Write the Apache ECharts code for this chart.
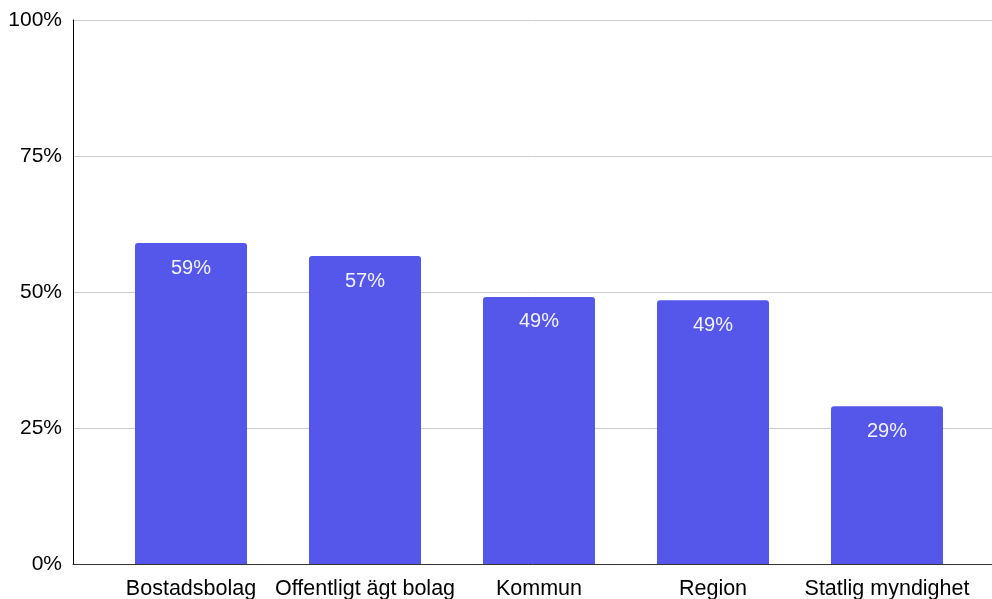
<!DOCTYPE html>
<html>
<head>
<meta charset="utf-8">
<script src="https://cdn.jsdelivr.net/npm/echarts@6/dist/echarts.min.js"></script>
<style>
  html, body { margin: 0; padding: 0; background: #fff; }
  #chart { width: 992px; height: 599px; }
</style>
</head>
<body>
<div id="chart"></div>
<script>
const categories = ['Bostadsbolag', 'Offentligt ägt bolag', 'Kommun', 'Region', 'Statlig myndighet'];
const values = [59.0, 56.6, 49.1, 48.5, 29.0];
const yTicks = [0, 25, 50, 75, 100];

const font = 'Liberation Sans, Arial, sans-serif';

option = {
    backgroundColor: '#fff',
    animation: false,
    grid: [
        {left: 73, right: 0, top: 20, bottom: 35, outerBoundsMode: 'none'},
        {left: 104, right: 18, top: 20, bottom: 35, outerBoundsMode: 'none'},
    ],
    xAxis: [
        {
            gridIndex: 0,
            type: 'category',
            data: [''],
            z: 5,
            axisLine: {show: true, lineStyle: {color: '#333', width: 1}},
            axisTick: {show: false},
            axisLabel: {show: false},
        },
        {
            gridIndex: 1,
            type: 'category',
            data: categories,
            axisLine: {show: false},
            axisTick: {show: false},
            axisLabel: {
                color: '#000',
                fontSize: 21.5,
                fontFamily: font,
                margin: 14,
                interval: 0,
            },
        },
    ],
    yAxis: [
        {
            gridIndex: 0,
            type: 'value',
            min: yTicks[0],
            max: yTicks[yTicks.length - 1],
            interval: 25,
            axisLine: {show: true, lineStyle: {color: '#000', width: 1}},
            axisTick: {show: false},
            axisLabel: {
                formatter: '{value}%',
                color: '#000',
                fontSize: 21,
                fontFamily: font,
                margin: 11,
            },
            splitLine: {show: true, lineStyle: {color: '#cccccc', width: 1}},
        },
        {
            gridIndex: 1,
            type: 'value',
            min: 0,
            max: 100,
            show: false,
        },
    ],
    series: [
        {
            type: 'bar',
            xAxisIndex: 1,
            yAxisIndex: 1,
            data: values,
            barWidth: 112,
            itemStyle: {color: '#5457EA', borderRadius: [3, 3, 0, 0]},
            label: {
                show: true,
                position: 'insideTop',
                distance: 15,
                color: '#f2f2ff',
                fontSize: 20,
                fontFamily: font,
                formatter: p => Math.round(p.value) + '%',
            },
        },
    ],
};

const chart = echarts.init(document.getElementById('chart'));
chart.setOption(option);
</script>
</body>
</html>
